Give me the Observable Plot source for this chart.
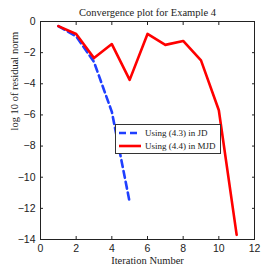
<!DOCTYPE html>
<html><head><meta charset="utf-8">
<script src="https://cdn.jsdelivr.net/npm/d3@7"></script>
<script src="https://cdn.jsdelivr.net/npm/@observablehq/plot@0.6"></script>
<style>
body{margin:0;background:#fff;}
#wrap{position:relative;width:277px;height:277px;}
#legend{position:absolute;left:115px;top:124px;width:104px;height:28px;border:1px solid #333;background:#fff;font-family:"Liberation Serif",serif;font-size:9px;color:#222;}
.row{position:absolute;left:3px;height:12px;display:flex;align-items:center;}
.row svg{margin-right:4px;}
</style></head>
<body><div id="wrap"><div id="legend"></div></div>
<script>
const iters = [1,2,3,4,5,6,7,8,9,10,11];
const jdIters = [1,2,3,4,5];
const jdVals = [-0.3,-0.95,-2.6,-5.8,-11.6];
const mjdVals = [-0.3,-0.8,-2.35,-1.45,-3.75,-0.8,-1.5,-1.25,-2.5,-5.7,-13.7];
const seriesNames = ["Using (4.3) in JD","Using (4.4) in MJD"];
const title = "Convergence plot for Example 4";
const xLabel = "Iteration Number";
const yLabel = "log 10 of residual norm";
const xTicks = [0,2,4,6,8,10,12];
const yTicks = [0,-2,-4,-6,-8,-10,-12,-14];

const jd = jdIters.map((x,i)=>({x,y:jdVals[i]}));
const mjd = iters.map((x,i)=>({x,y:mjdVals[i]}));
const fmt = d => d < 0 ? "\u2212" + Math.abs(d) : String(d);
const tickFont = {fontFamily:"'Liberation Sans',Arial,sans-serif", fontSize:10.5};

const plot = Plot.plot({
  width:277, height:277,
  marginLeft:40, marginRight:23, marginTop:21, marginBottom:38,
  style:{fontFamily:"'Liberation Sans',Arial,sans-serif", fontSize:"10.5px", color:"#222", background:"#fff"},
  x:{domain:[0,12]},
  y:{domain:[-14,0]},
  marks:[
    Plot.line(jd,{x:"x",y:"y",stroke:"#1f3fff",strokeWidth:2.6,strokeDasharray:"7,4"}),
    Plot.line(mjd,{x:"x",y:"y",stroke:"#ff0000",strokeWidth:2.6}),
    Plot.frame({stroke:"#222"}),
    Plot.axisX(xTicks,{anchor:"bottom",tickSize:-3,tickPadding:8,tickFormat:fmt,label:null,stroke:"#222"}),
    Plot.axisX(xTicks,{anchor:"top",tickSize:-3,text:null,label:null,stroke:"#222"}),
    Plot.axisY(yTicks,{anchor:"left",tickSize:-3,tickPadding:8,tickFormat:fmt,label:null,stroke:"#222"}),
    Plot.axisY(yTicks,{anchor:"right",tickSize:-3,text:null,label:null,stroke:"#222"}),
    Plot.text([title],{frameAnchor:"top",dy:-13,fontFamily:"'Liberation Serif',serif",fontSize:10.5,fill:"#222"}),
    Plot.text([xLabel],{frameAnchor:"bottom",dy:24,fontFamily:"'Liberation Serif',serif",fontSize:10.5,fill:"#222"}),
    Plot.text([yLabel],{frameAnchor:"left",dx:-26,rotate:-90,fontFamily:"'Liberation Serif',serif",fontSize:10.5,fill:"#222"})
  ]
});
document.getElementById("wrap").prepend(plot);

const leg = document.getElementById("legend");
const styles = [{c:"#1f3fff",d:"7,4"},{c:"#ff0000",d:null}];
seriesNames.forEach((name,i)=>{
  const row = document.createElement("div");
  row.className="row";
  row.style.top = (2 + i*12.5) + "px";
  row.innerHTML = `<svg width="22" height="6"><line x1="0" y1="3" x2="22" y2="3" stroke="${styles[i].c}" stroke-width="2.6" ${styles[i].d?`stroke-dasharray="${styles[i].d}"`:""}/></svg><span>${name}</span>`;
  leg.appendChild(row);
});
</script></body></html>
